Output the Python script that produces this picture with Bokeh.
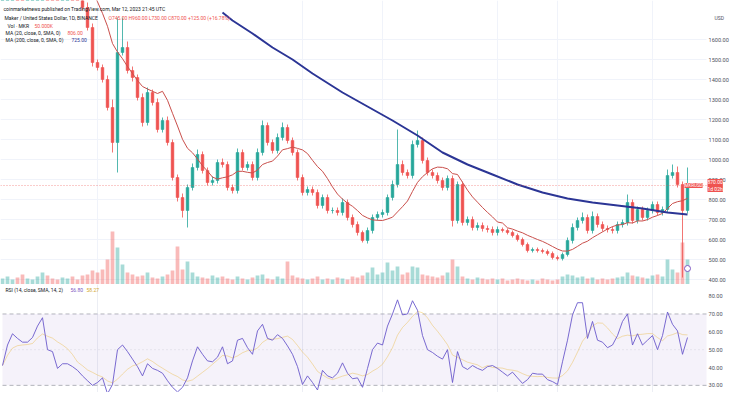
import numpy as np
import pandas as pd
from bokeh.plotting import figure
from bokeh.models import Range1d, FixedTicker, Label, BoxAnnotation, ColumnDataSource
from bokeh.layouts import column
from bokeh.embed import file_html
from bokeh.resources import INLINE
from bokeh.core.properties import value

# ---------------- data (daily MKR/USD) ----------------
closes = [
    1885, 1935, 1985, 1975, 1965, 1975, 1985, 2035, 2085, 1985,
    1975, 1910, 1945, 1960, 1895, 1835, 1760, 1660, 1485, 1460,
    1400, 1260, 1085, 1535, 1560, 1445, 1410, 1310, 1185, 1335,
    1285, 1150, 1195, 1085, 910, 810, 745, 860, 960, 1025,
    945, 885, 895, 985, 975, 860, 845, 1035, 960, 975,
    910, 1035, 1170, 1085, 1045, 1110, 1160, 1095, 1035, 910,
    835, 850, 835, 770, 810, 745, 745, 735, 785, 710,
    675, 635, 595, 645, 710, 725, 735, 810, 875, 975,
    935, 920, 1075, 1095, 995, 935, 920, 895, 860, 905,
    695, 875, 685, 700, 660, 670, 655, 650, 635, 650,
    645, 635, 620, 600, 575, 545, 550, 545, 540, 530,
    510, 505, 525, 595, 660, 695, 710, 645, 715, 675,
    655, 650, 645, 675, 685, 785, 695, 750, 710, 745,
    775, 735, 750, 920, 935, 875, 745, 870,
]
wick_up = [
    20, 15, 25, 15, 10, 15, 20, 25, 15, 10,
    15, 20, 15, 10, 20, 15, 20, 25, 20, 15,
    15, 20, 40, 175, 150, 30, 20, 15, 20, 25,
    15, 20, 15, 20, 15, 15, 20, 15, 20, 25,
    15, 15, 20, 15, 20, 15, 15, 20, 15, 15,
    15, 20, 25, 15, 15, 20, 25, 15, 15, 15,
    15, 15, 15, 15, 15, 15, 15, 15, 20, 15,
    15, 15, 10, 15, 15, 15, 15, 15, 20, 175,
    20, 15, 20, 50, 15, 15, 15, 15, 15, 15,
    15, 15, 15, 15, 15, 15, 15, 15, 15, 15,
    10, 10, 10, 10, 10, 10, 10, 10, 10, 10,
    10, 10, 10, 15, 20, 15, 25, 15, 25, 15,
    15, 15, 15, 15, 15, 40, 15, 15, 15, 15,
    15, 15, 15, 30, 40, 30, 15, 90,
]
wick_dn = [
    15, 15, 15, 15, 15, 15, 15, 15, 15, 15,
    15, 15, 15, 15, 15, 15, 15, 15, 20, 15,
    15, 15, 50, 150, 15, 15, 20, 15, 20, 15,
    15, 15, 15, 15, 15, 20, 35, 85, 15, 15,
    15, 15, 15, 15, 15, 15, 15, 15, 15, 15,
    15, 15, 15, 15, 15, 15, 15, 15, 15, 15,
    15, 15, 15, 15, 15, 15, 15, 15, 15, 15,
    15, 15, 10, 15, 15, 15, 15, 15, 15, 15,
    15, 15, 15, 15, 15, 15, 15, 15, 15, 15,
    30, 15, 15, 15, 15, 15, 15, 15, 15, 15,
    10, 10, 10, 10, 10, 10, 10, 10, 10, 10,
    10, 10, 10, 10, 15, 15, 15, 15, 15, 15,
    15, 15, 15, 15, 15, 15, 15, 15, 15, 15,
    15, 15, 15, 15, 15, 15, 335, 15,
]
volume_k = [
    12, 16, 10, 14, 20, 12, 10, 16, 24, 18,
    12, 10, 14, 12, 16, 10, 18, 20, 28, 24,
    30, 50, 106, 74, 40, 24, 20, 16, 18, 24,
    14, 12, 16, 20, 28, 76, 30, 46, 24, 16,
    14, 12, 18, 14, 16, 12, 10, 16, 12, 10,
    14, 18, 20, 12, 10, 16, 12, 46, 18, 14,
    12, 10, 12, 16, 10, 12, 10, 14, 12, 10,
    16, 14, 18, 24, 34, 20, 24, 44, 28, 36,
    20, 24, 36, 34, 20, 18, 16, 14, 18, 24,
    50, 36, 16, 12, 10, 14, 12, 10, 12, 10,
    12, 8, 10, 12, 10, 8, 10, 8, 12, 10,
    8, 10, 16, 20, 18, 14, 16, 12, 14, 10,
    12, 10, 12, 14, 16, 24, 18, 16, 14, 12,
    18, 20, 16, 50, 30, 24, 84, 50,
]
rsi = [
    41.1, 52.6, 58.9, 56.3, 54.2, 54.2, 56.8, 63.2, 67.9, 50.0,
    48.9, 39.5, 42.1, 42.1, 40.5, 38.4, 35.3, 32.6, 30.0, 31.6,
    34.2, 25.3, 30.5, 50.0, 52.6, 48.9, 44.7, 40.5, 35.3, 42.1,
    39.5, 38.4, 36.8, 32.6, 28.9, 26.3, 28.9, 34.2, 43.7, 51.6,
    47.4, 43.7, 43.2, 45.8, 51.6, 42.1, 43.7, 55.3, 56.3, 51.1,
    47.4, 60.5, 64.2, 56.3, 55.3, 58.4, 56.3, 52.1, 47.4, 40.5,
    30.5, 35.3, 31.6, 27.4, 38.4, 35.3, 34.2, 36.8, 42.6, 36.8,
    33.7, 34.2, 28.9, 39.5, 50.0, 53.7, 52.6, 63.2, 70.0, 77.9,
    69.5, 70.0, 77.4, 72.1, 57.9, 50.0, 48.4, 46.3, 44.7, 50.0,
    31.6, 48.9, 40.5, 38.9, 41.1, 39.5, 38.4, 40.5, 41.1, 39.5,
    37.4, 35.3, 37.4, 34.2, 31.1, 33.2, 36.8, 36.3, 36.3, 33.2,
    32.1, 30.5, 43.2, 55.3, 69.5, 76.3, 76.3, 56.3, 65.8, 55.3,
    54.2, 51.1, 52.6, 57.9, 65.8, 70.0, 52.6, 58.9, 52.6, 55.3,
    57.9, 50.0, 57.9, 71.1, 64.2, 60.5, 47.4, 56.8,
]
ma200_idx = [44, 46, 50, 54, 58, 62, 68, 73, 78, 83, 88, 93, 98, 103, 108, 113, 118, 123, 128, 133, 137]
ma200_val = [1735, 1695, 1630, 1560, 1500, 1430, 1335, 1265, 1195, 1120, 1035, 975, 925, 875, 835, 805, 785, 770, 755, 735, 725]
price_ticks = [400, 500, 600, 700, 800, 900, 1000, 1100, 1200, 1300, 1400, 1500, 1600]
rsi_ticks = [30, 40, 50, 60, 70, 80]

# ---------------- derived ----------------
n = len(closes)
idx = np.arange(n)
c = np.array(closes, float)
o = np.concatenate([[c[0]], c[:-1]])
top = np.maximum(o, c)
bot = np.minimum(o, c)
hi = top + np.array(wick_up, float)
lo = bot - np.array(wick_dn, float)
up = c >= o
UP, DN = "#26a69a", "#ef5350"
col = np.where(up, UP, DN)
ma20 = pd.Series(c).rolling(10).mean().to_numpy()
rsi_ma = pd.Series(rsi).rolling(7, min_periods=1).mean().to_numpy()

src = ColumnDataSource(dict(x=idx, o=o, c=c, top=top, bot=bot, hi=hi, lo=lo,
                            col=col, vol=volume_k, rsi=rsi, rsi_ma=rsi_ma, ma20=ma20))

FONT = "Roboto"
W = 734


def X(px):
    return (px - 10) / 5.0


xr = Range1d(X(8), X(742))
AX_EDGE = X(714)     # where the price scale starts
AX_TXT = X(716)


def P(py):
    return 1835 - 5 * py


def lab(fig, x, y, text, color="#131722", size="5px", **kw):
    fig.add_layout(Label(x=x, y=y, text=text, text_color=color, text_font=FONT,
                         text_font_size=size, text_baseline="middle", **kw))


def scale_labels(fig, ticks):
    s = ColumnDataSource(dict(x=[AX_TXT] * len(ticks), y=ticks,
                              t=["%.2f" % t for t in ticks],
                              x0=[X(8)] * len(ticks), x1=[AX_EDGE] * len(ticks)))
    fig.text(x="x", y="y", text="t", source=s, text_font=value(FONT),
             text_font_size="5.6px", text_color="#50535e", text_baseline="middle")
    return s


# ---------------- main pane ----------------
p = figure(width=W, height=284, x_range=xr, y_range=Range1d(P(292), P(8)),
           output_backend="svg", toolbar_location=None, min_border=0,
           x_axis_location=None, y_axis_location=None)
p.extra_y_ranges = {"vol": Range1d(0, 568)}
p.outline_line_color = None
p.xgrid.ticker = FixedTicker(ticks=[19, 60, 76, 99, 111, 130])
p.xgrid.grid_line_color = "#f0f3fa"
p.ygrid.grid_line_color = None

gs = scale_labels(p, price_ticks)
p.segment(x0="x0", y0="y", x1="x1", y1="y", source=gs, line_color="#f0f3fa", line_width=1)

p.vbar(x="x", top="vol", bottom=0, width=0.75, y_range_name="vol", source=src,
       fill_color="col", line_color=None, fill_alpha=0.4)
p.segment(x0="x", y0="lo", x1="x", y1="hi", source=src, line_color="col", line_width=0.8)
p.vbar(x="x", top="top", bottom="bot", width=0.55, source=src,
       fill_color="col", line_color="col", line_width=0.5)
p.line(x="x", y="ma20", source=src, line_color="#c94f4b", line_width=1)
p.line(x=ma200_idx, y=ma200_val, line_color="#2b3595", line_width=2)

last = n - 1
p.segment(x0=[X(8)], y0=[c[last]], x1=[AX_EDGE], y1=[c[last]], line_color=DN,
          line_alpha=0.6, line_dash="1 2", line_width=1)

lab(p, X(11), P(16), "coinmarketnews published on TradingView.com, Mar 12, 2023 21:45 UTC")
lab(p, X(12), P(25), "Maker / United States Dollar, 1D, BINANCE")
lab(p, X(116), P(25), "O%.2f  H%.2f  L%.2f  C%.2f  +%.2f (+%.2f%%)" % (
    o[last], hi[last], lo[last], c[last], c[last] - o[last], (c[last] - o[last]) / o[last] * 100), color=DN)
lab(p, X(15), P(33), "Vol · MKR")
lab(p, X(42), P(33), "%.3fK" % volume_k[last], color=DN)
lab(p, X(13), P(40), "MA (20, close, 0, SMA, 0)")
lab(p, X(75), P(40), "%.2f" % ma20[last], color=DN)
lab(p, X(13), P(47), "MA (200, close, 0, SMA, 0)")
lab(p, X(79), P(47), "%.2f" % ma200_val[-1], color="#2b3595")

lab(p, X(692), c[last], "MKRUSD", color="white", size="4.5px",
    background_fill_color=DN, border_line_color=None)
lab(p, X(715), c[last], "%.2f\n1d 02h" % c[last], color="white", size="5px",
    background_fill_color=DN)
lab(p, X(722), P(25), "USD", color="#50535e", size="5px")
p.scatter(x=[last], y=[P(276)], size=6, marker="circle", fill_color="white",
          line_color="#7e57c2", line_width=1)

# ---------------- RSI pane ----------------
RB, RT = 26.0, 86.5
r = figure(width=W, height=108, x_range=xr, y_range=Range1d(RB, RT),
           output_backend="svg", toolbar_location=None, min_border=0,
           x_axis_location=None, y_axis_location=None)
r.outline_line_color = None
r.ygrid.grid_line_color = None
r.xgrid.ticker = FixedTicker(ticks=[19, 60, 76, 99, 111, 130])
r.xgrid.grid_line_color = "#eceef4"
scale_labels(r, rsi_ticks)
r.add_layout(BoxAnnotation(left=X(10), right=AX_EDGE, bottom=30, top=70,
                           fill_color="#7e57c2", fill_alpha=0.08, line_color=None))
r.segment(x0=[X(10), X(10)], y0=[70, 30], x1=[AX_EDGE, AX_EDGE], y1=[70, 30],
          line_color="#9598a1", line_dash="4 3", line_width=1, line_alpha=0.7)
r.segment(x0=[X(10)], y0=[50], x1=[AX_EDGE], y1=[50],
          line_color="#9598a1", line_dash="1 3", line_width=1, line_alpha=0.3)
r.line(x="x", y="rsi_ma", source=src, line_color="#f5c542", line_width=1, line_alpha=0.45)
r.line(x="x", y="rsi", source=src, line_color="#6a5acd", line_width=0.9)


def R(py):
    return RT - (py - 292) * (RT - RB) / 108.0


lab(r, X(13), R(297), "RSI (14, close, SMA, 14, 2)")
lab(r, X(78), R(297), "%.2f" % rsi[last], color="#7e57c2")
lab(r, X(94), R(297), "%.2f" % rsi_ma[last], color="#d4a72c")

layout = column(p, r, spacing=0)
open("out.html", "w").write(file_html(layout, INLINE))
